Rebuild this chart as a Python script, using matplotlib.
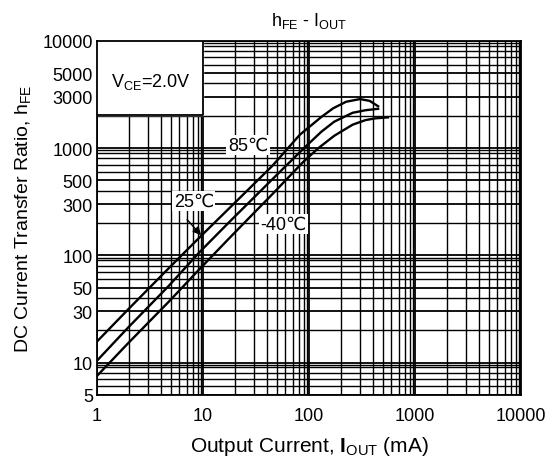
import numpy as np
import matplotlib
matplotlib.use('Agg')
import matplotlib.pyplot as plt
from matplotlib.ticker import LogLocator, FixedLocator, NullFormatter

plt.rcParams['font.family'] = ['Liberation Sans', 'DejaVu Sans']
plt.rcParams['mathtext.fontset'] = 'custom'
plt.rcParams['mathtext.rm'] = 'Liberation Sans'
plt.rcParams['mathtext.bf'] = 'Liberation Sans:bold'

# curves (Iout in mA, hFE)
x_85 = [1, 1.95, 4.77, 9.36, 18.4, 45, 82, 131, 169, 224, 303, 374, 449]
y_85 = [15.7, 31, 76, 148, 285, 680, 1330, 1950, 2345, 2700, 2860, 2750, 2450]

x_25 = [1, 1.95, 4.77, 9.36, 18.4, 45, 88, 131, 173, 258, 341, 449]
y_25 = [10.4, 21, 52, 108, 212, 510, 980, 1420, 1760, 2130, 2250, 2320]

x_m40 = [1, 1.95, 4.77, 9.36, 18.4, 45, 88, 123, 173, 258, 341, 422, 556]
y_m40 = [7.5, 15, 37, 75, 150, 370, 740, 1000, 1300, 1650, 1820, 1890, 1930]

xticks = [1, 10, 100, 1000, 10000]
yticks = [5, 10, 30, 50, 100, 300, 500, 1000, 3000, 5000, 10000]

fig = plt.figure(figsize=(5.53, 4.64), dpi=100)
ax = fig.add_axes([0.1754, 0.147, 0.7667, 0.763])

ax.set_xscale('log')
ax.set_yscale('log')
ax.set_xlim(1, 10000)
ax.set_ylim(5, 10000)

# dense black datasheet grid (double lines near each decade)
ax.xaxis.set_minor_locator(LogLocator(base=10, subs=[2, 3, 4, 5, 6, 7, 8, 9, 9.6]))
ax.yaxis.set_minor_locator(LogLocator(base=10, subs=[2, 3, 4, 5, 6, 7, 8, 9, 9.5]))
ax.xaxis.set_minor_formatter(NullFormatter())
ax.yaxis.set_minor_formatter(NullFormatter())
ax.grid(which='major', color='black', lw=1.3)
ax.grid(which='minor', color='black', lw=1.0)
ax.set_axisbelow(True)

ax.xaxis.set_major_locator(FixedLocator(xticks))
ax.yaxis.set_major_locator(FixedLocator(yticks))
ax.set_xticklabels([str(v) for v in xticks])
ax.set_yticklabels([str(v) for v in yticks])
ax.tick_params(which='both', length=0)
ax.tick_params(axis='x', pad=9, labelsize=13)
ax.tick_params(axis='y', pad=3, labelsize=13)

for s in ax.spines.values():
    s.set_linewidth(1.3)
    s.set_color('black')

ax.plot(x_85, y_85, color='black', lw=1.7, zorder=3)
ax.plot(x_25, y_25, color='black', lw=1.7, zorder=3)
ax.plot(x_m40, y_m40, color='black', lw=1.7, zorder=3)

# V_CE box in upper left corner
ax.fill_between([1, 10], 2030, 10000, color='white', zorder=2.5)
ax.plot([1, 10, 10], [2030, 2030, 10000], color='black', lw=1.3, zorder=2.6)
ax.text(3.2, 4200, r'V$_{\rm CE}$=2.0V', fontsize=13, ha='center', va='center', zorder=4)

lbl = dict(fontsize=13, ha='center', va='center', zorder=5,
           bbox=dict(facecolor='white', edgecolor='none', pad=1))
ax.text(26.6, 1070, '85℃', **lbl)
ax.text(8.2, 320, '25℃', **lbl)
ax.text(57, 196, '-40℃', **lbl)
ax.annotate('', xy=(10.0, 147), xytext=(6.8, 225),
            arrowprops=dict(arrowstyle='-|>', color='black', lw=1.0, mutation_scale=12), zorder=5)

ax.set_title(r'h$_{\rm FE}$ - I$_{\rm OUT}$', fontsize=13, pad=11)
ax.set_xlabel(r'Output Current, $\mathbf{I}_{\rm OUT}$ (mA)', fontsize=15, labelpad=7)
ax.set_ylabel(r'DC Current Transfer Ratio, h$_{\rm FE}$', fontsize=14, labelpad=6)

fig.savefig('out.png', dpi=100)
